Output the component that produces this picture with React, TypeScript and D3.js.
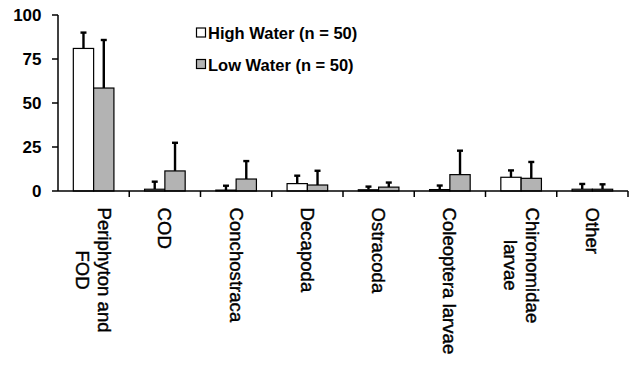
import React, { useEffect, useRef } from "react";
import * as d3 from "d3";

const categories = [
  "Periphyton and\nFOD",
  "COD",
  "Conchostraca",
  "Decapoda",
  "Ostracoda",
  "Coleoptera larvae",
  "Chironomidae\nlarvae",
  "Other",
];
const highWater = [81, 1, 0.5, 4.2, 0.7, 0.8, 7.8, 1];
const highErr = [9, 4.3, 2.5, 4.5, 1.8, 2.3, 3.9, 3];
const lowWater = [58.5, 11.4, 6.8, 3.4, 2.2, 9.3, 7.2, 1];
const lowErr = [27.3, 16, 10.2, 8.1, 2.6, 13.6, 9.3, 2.8];
const yTicks = [0, 25, 50, 75, 100];
const seriesNames = ["High Water (n = 50)", "Low Water (n = 50)"];

const W = 640;
const H = 366;
const FONT = "'Liberation Sans', Arial, sans-serif";

export default function App() {
  const ref = useRef<SVGSVGElement>(null);

  useEffect(() => {
    const svg = d3.select(ref.current);
    svg.selectAll("*").remove();

    const x = d3.scaleBand<string>().domain(categories).range([58, 628]).padding(0);
    const sub = d3
      .scaleBand<string>()
      .domain(["high", "low"])
      .range([0, x.bandwidth()])
      .paddingInner(0)
      .paddingOuter(0.755);
    const y = d3.scaleLinear().domain([0, 100]).range([191, 15]);

    const series = [
      { key: "high", vals: highWater, errs: highErr, fill: "#ffffff" },
      { key: "low", vals: lowWater, errs: lowErr, fill: "#b3b3b3" },
    ];

    const g = svg.append("g");

    // error bars
    series.forEach((s) => {
      categories.forEach((c, i) => {
        const cx = (x(c) as number) + (sub(s.key) as number) + sub.bandwidth() / 2;
        const top = y(s.vals[i] + s.errs[i]);
        g.append("line")
          .attr("x1", cx)
          .attr("x2", cx)
          .attr("y1", y(s.vals[i]))
          .attr("y2", top)
          .attr("stroke", "#000")
          .attr("stroke-width", 2.4);
        g.append("line")
          .attr("x1", cx - 3)
          .attr("x2", cx + 3)
          .attr("y1", top)
          .attr("y2", top)
          .attr("stroke", "#000")
          .attr("stroke-width", 2.4);
      });
    });

    // bars
    series.forEach((s) => {
      g.selectAll(null)
        .data(categories)
        .enter()
        .append("rect")
        .attr("x", (c) => (x(c) as number) + (sub(s.key) as number))
        .attr("width", sub.bandwidth())
        .attr("y", (_c, i) => y(s.vals[i]))
        .attr("height", (_c, i) => y(0) - y(s.vals[i]))
        .attr("fill", s.fill)
        .attr("stroke", "#000")
        .attr("stroke-width", 1.2);
    });

    // y axis
    g.append("line")
      .attr("x1", 58)
      .attr("x2", 58)
      .attr("y1", y(100))
      .attr("y2", y(0))
      .attr("stroke", "#000")
      .attr("stroke-width", 1.5);
    yTicks.forEach((t) => {
      g.append("line")
        .attr("x1", 52)
        .attr("x2", 58)
        .attr("y1", y(t))
        .attr("y2", y(t))
        .attr("stroke", "#000")
        .attr("stroke-width", 1.5);
      g.append("text")
        .attr("x", 41.5)
        .attr("y", y(t))
        .attr("dy", "0.36em")
        .attr("text-anchor", "end")
        .attr("font-family", FONT)
        .attr("font-weight", "bold")
        .attr("font-size", 17)
        .attr("fill", "#000")
        .text(t);
    });

    // x axis
    g.append("line")
      .attr("x1", 58)
      .attr("x2", 628)
      .attr("y1", y(0))
      .attr("y2", y(0))
      .attr("stroke", "#000")
      .attr("stroke-width", 1.5);
    categories.forEach((c) => {
      const bx = (x(c) as number) + x.bandwidth();
      g.append("line")
        .attr("x1", bx)
        .attr("x2", bx)
        .attr("y1", y(0))
        .attr("y2", y(0) + 6)
        .attr("stroke", "#000")
        .attr("stroke-width", 1.5);
    });

    // category labels (rotated, top-aligned block, lines centered)
    const lh = 22;
    const topY = 207.5;
    categories.forEach((c) => {
      const lines = c.split("\n");
      const cx = (x(c) as number) + x.bandwidth() / 2;
      const texts = lines.map((ln) =>
        g
          .append("text")
          .attr("font-family", FONT)
          .attr("font-size", 18.6)
          .attr("fill", "#000")
          .attr("stroke", "#000")
          .attr("stroke-width", 0.4)
          .attr("text-anchor", "middle")
          .attr("dominant-baseline", "central")
          .text(ln)
      );
      const maxLen = d3.max(texts, (t) => (t.node() as SVGTextElement).getComputedTextLength()) || 0;
      const cy = topY + maxLen / 2;
      texts.forEach((t, i) => {
        const lx = cx + ((lines.length - 1) / 2 - i) * lh;
        t.attr("transform", `translate(${lx},${cy}) rotate(90)`);
      });
    });

    // legend
    const legY = [32.5, 64];
    series.forEach((s, i) => {
      g.append("rect")
        .attr("x", 196.5)
        .attr("y", legY[i] - 4.5)
        .attr("width", 9)
        .attr("height", 9)
        .attr("fill", s.fill)
        .attr("stroke", "#000")
        .attr("stroke-width", 1.2);
      g.append("text")
        .attr("x", 208)
        .attr("y", legY[i] + 6.5)
        .attr("font-family", FONT)
        .attr("font-weight", "bold")
        .attr("font-size", 16.5)
        .attr("fill", "#000")
        .text(seriesNames[i]);
    });
  }, []);

  return (
    <svg
      ref={ref}
      width={W}
      height={H}
      style={{ position: "absolute", left: 0, top: 0, background: "#fff" }}
    />
  );
}
